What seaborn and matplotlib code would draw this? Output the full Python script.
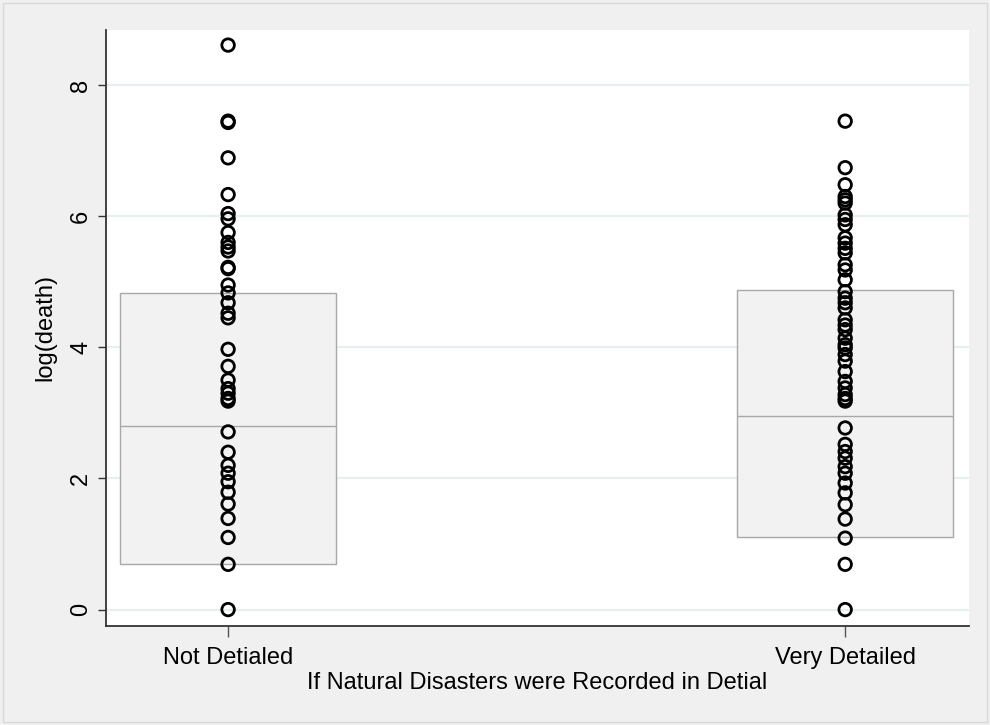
import numpy as np
import pandas as pd
import matplotlib
matplotlib.use("Agg")
import matplotlib.pyplot as plt
from matplotlib.patches import Rectangle
import seaborn as sns

# categories and readings (log of deaths)
groups = ["Not Detialed", "Very Detailed"]

not_detailed = [8.61, 7.45, 7.43, 6.89, 6.33, 6.04, 5.96, 5.75, 5.60, 5.53,
                5.47, 5.22, 5.20, 4.95, 4.83, 4.68, 4.52, 4.45, 3.97, 3.71,
                3.50, 3.37, 3.30, 3.22, 3.18, 2.71, 2.40, 2.20, 2.08, 1.95,
                1.79, 1.61, 1.39, 1.10, 0.69, 0.0]

very_detailed = [7.45, 6.74, 6.48, 6.30, 6.25, 6.20, 6.02, 5.95, 5.87, 5.67,
                 5.59, 5.51, 5.44, 5.26, 5.18, 5.03, 4.85, 4.75, 4.68, 4.60,
                 4.42, 4.34, 4.27, 4.14, 4.04, 3.99, 3.89, 3.79, 3.63, 3.48,
                 3.38, 3.28, 3.22, 3.18, 2.77, 2.52, 2.41, 2.31, 2.18, 2.08,
                 1.93, 1.78, 1.60, 1.38, 1.09, 0.69, 0.0]

# box = interquartile range, line = median
q1 = [0.69, 1.10]
median = [2.80, 2.96]
q3 = [4.83, 4.88]

yticks = [0, 2, 4, 6, 8]

df = pd.DataFrame({
    "group": [groups[0]] * len(not_detailed) + [groups[1]] * len(very_detailed),
    "logdeath": not_detailed + very_detailed,
})

sns.set_theme(style="white")
plt.rcParams["font.family"] = ["Liberation Sans", "DejaVu Sans"]
plt.rcParams["text.color"] = "black"
plt.rcParams["axes.labelcolor"] = "black"
plt.rcParams["xtick.labelcolor"] = "black"
plt.rcParams["ytick.labelcolor"] = "black"

bg = "#f0f0f0"
fig = plt.figure(figsize=(9.9, 7.25), dpi=100, facecolor=bg)
fig.patches.append(Rectangle((0.003, 0.004), 0.994, 0.992, transform=fig.transFigure,
                             fill=False, edgecolor="#d8d8d8", linewidth=1.0))
ax = fig.add_axes([0.107, 0.1366, 0.872, 0.822])
ax.set_facecolor("white")

for y in yticks:
    ax.axhline(y, color="#e8eff1", linewidth=1.6, zorder=0)

pos = np.arange(len(groups))
ax.bar(pos, np.array(q3) - np.array(q1), bottom=q1, width=0.35,
       color="#f2f2f2", edgecolor="#a8a8a8", linewidth=1.0, zorder=1)
ax.hlines(median, pos - 0.175, pos + 0.175, color="#a8a8a8", linewidth=1.0, zorder=1.5)

sns.stripplot(data=df, x="group", y="logdeath", order=groups, jitter=False,
              marker="o", size=9, facecolor="none", edgecolor="black",
              linewidth=2.0, ax=ax, zorder=3)

ax.set_xlim(-0.198, 1.201)
ax.set_ylim(-0.25, 8.84)
ax.set_yticks(yticks)
ax.set_xticks(pos)
ax.set_xticklabels(groups)

for side in ["top", "right"]:
    ax.spines[side].set_visible(False)
ax.spines["left"].set_color("#333333")
ax.spines["bottom"].set_color("#333333")
ax.spines["left"].set_linewidth(1.3)
ax.spines["bottom"].set_linewidth(1.3)

ax.tick_params(axis="y", left=True, length=6, width=1.0, color="#333333",
               labelsize=17, rotation=90, pad=4)
ax.tick_params(axis="x", bottom=True, length=8, width=1.0, color="#555555",
               labelsize=17, pad=7)
for lab in ax.get_yticklabels():
    lab.set_va("center")

ax.set_ylabel("log(death)", fontsize=17, labelpad=10)
ax.set_xlabel("If Natural Disasters were Recorded in Detial", fontsize=17, labelpad=2)

fig.savefig("out.png", dpi=100, facecolor=bg)
